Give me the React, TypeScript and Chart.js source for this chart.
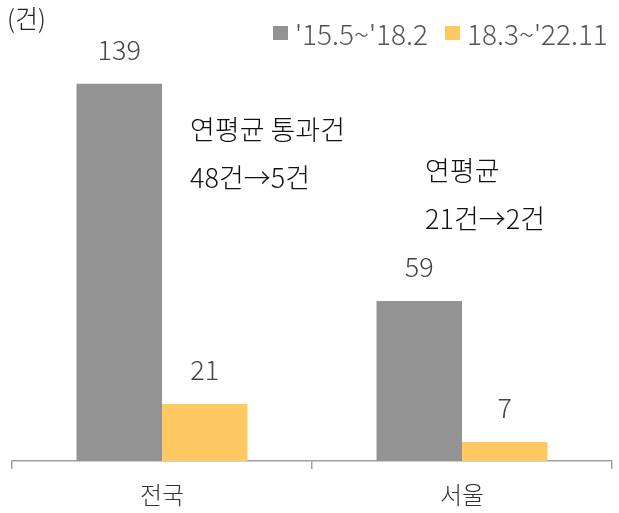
import { useEffect, useRef } from "react"
import { Chart, type ChartConfiguration, type Plugin, registerables } from "chart.js"

Chart.register(...registerables)

const categories = ["전국", "서울"]
const seriesNames = ["'15.5~'18.2", "18.3~'22.11"]
const beforeValues = [139, 59]
const afterValues = [21, 7]
const seriesColors = ["#939393", "#FEC962"]
const unitLabel = "(건)"
const notes = [
  { lines: ["연평균 통과건", "48건→5건"], left: 190, top: 105 },
  { lines: ["연평균", "21건→2건"], left: 425, top: 146 },
]
const legendPos = [273, 445]

const FONT = "'Noto Sans CJK KR', 'Noto Sans', sans-serif"

// draws the value above each bar
const valueLabels: Plugin = {
  id: "valueLabels",
  afterDatasetsDraw(chart) {
    const ctx = chart.ctx
    ctx.save()
    ctx.font = `300 27px ${FONT}`
    ctx.fillStyle = "#444"
    ctx.textAlign = "center"
    ctx.textBaseline = "middle"
    chart.data.datasets.forEach((ds, i) => {
      chart.getDatasetMeta(i).data.forEach((bar, j) => {
        ctx.fillText(String(ds.data[j]), bar.x, bar.y - 34)
      })
    })
    ctx.restore()
  },
}

export default function App() {
  const chartRef = useRef<HTMLCanvasElement>(null)
  const chartInstance = useRef<Chart | null>(null)

  useEffect(() => {
    document.body.style.margin = "0"
    if (!chartRef.current) return
    if (chartInstance.current) chartInstance.current.destroy()
    const ctx = chartRef.current.getContext("2d")
    if (!ctx) return

    const config: ChartConfiguration = {
      type: "bar",
      data: {
        labels: categories,
        datasets: [
          { label: seriesNames[0], data: beforeValues, backgroundColor: seriesColors[0] },
          { label: seriesNames[1], data: afterValues, backgroundColor: seriesColors[1] },
        ],
      },
      options: {
        responsive: false,
        animation: false,
        layout: { padding: { left: 12, right: 7, top: 54, bottom: 0 } },
        datasets: { bar: { barPercentage: 1, categoryPercentage: 0.57 } },
        scales: {
          x: {
            afterFit: (scale) => {
              scale.height = 52
            },
            grid: {
              display: true,
              drawOnChartArea: false,
              drawTicks: true,
              tickLength: 8,
              color: "#a0a0a0",
              lineWidth: 1.5,
            },
            border: { display: true, color: "#a0a0a0", width: 1.5 },
            ticks: {
              padding: 11,
              color: "#333",
              font: { family: FONT, size: 24, weight: 300 },
            },
          },
          y: {
            display: false,
            min: 0,
            max: 150,
          },
        },
        plugins: {
          legend: { display: false },
          tooltip: { enabled: false },
        },
      },
      plugins: [valueLabels],
    }

    chartInstance.current = new Chart(ctx, config)
    return () => {
      if (chartInstance.current) {
        chartInstance.current.destroy()
        chartInstance.current = null
      }
    }
  }, [])

  return (
    <div style={{ position: "relative", width: 619, height: 513, fontFamily: FONT, fontWeight: 300 }}>
      <canvas ref={chartRef} width={619} height={513} />
      <div style={{ position: "absolute", left: 7, top: 2, fontSize: 25, color: "#222", lineHeight: "30px" }}>
        {unitLabel}
      </div>
      {seriesNames.map((name, i) => (
        <div
          key={name}
          style={{
            position: "absolute",
            left: legendPos[i],
            top: 17,
            display: "flex",
            alignItems: "center",
            fontSize: 28,
            color: "#555",
            lineHeight: "32px",
            whiteSpace: "nowrap",
          }}
        >
          <span style={{ width: 15, height: 14, background: seriesColors[i], marginRight: 7 }} />
          {name}
        </div>
      ))}
      {notes.map((n) => (
        <div
          key={n.lines[0]}
          style={{ position: "absolute", left: n.left, top: n.top, fontSize: 27, color: "#111", lineHeight: "48px", whiteSpace: "nowrap" }}
        >
          {n.lines.map((l) => (
            <div key={l}>{l}</div>
          ))}
        </div>
      ))}
    </div>
  )
}
